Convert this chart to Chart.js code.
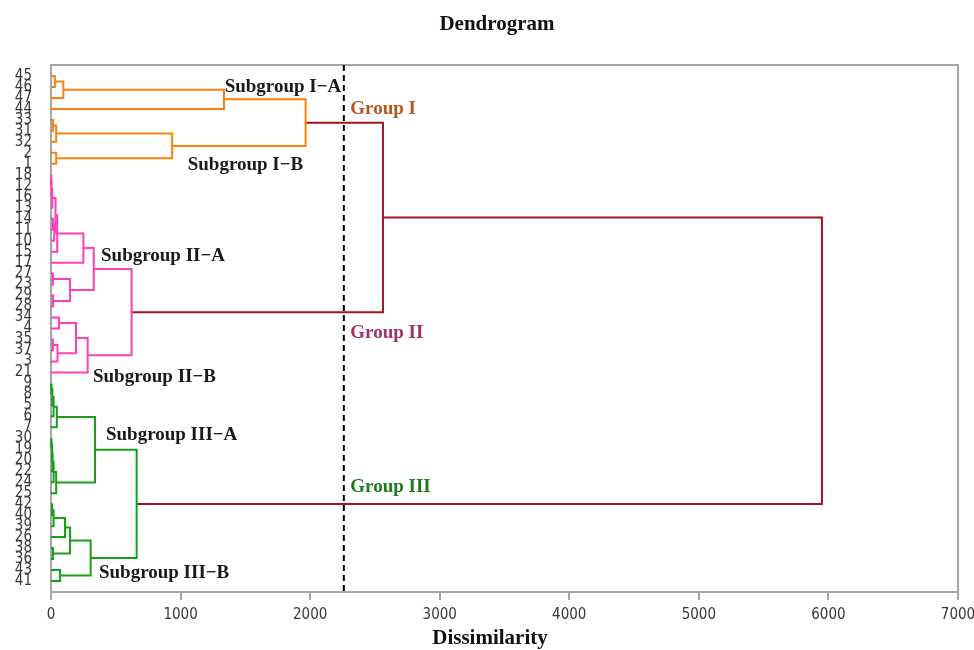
<!DOCTYPE html>
<html>
<head>
<meta charset="utf-8">
<script src="https://cdn.jsdelivr.net/npm/chart.js@4/dist/chart.umd.min.js"></script>
<style>
  html, body { margin: 0; padding: 0; background: #fff; }
  #wrap { width: 974px; height: 650px; }
</style>
</head>
<body>
<div id="wrap"><canvas id="dendro"></canvas></div>
<script>
// leaf order, top to bottom
const leaves = ['45','46','47','44','33','31','32','2','1',
  '18','12','16','13','14','11','10','15','17','27','23','29','28',
  '34','4','35','37','3','21',
  '9','8','5','6','7','30','19','20','22','24','25',
  '42','40','39','26','38','36','43','41'];

// merges: [child a, child b, dissimilarity]; strings are leaves, numbers are earlier merges
const merges = [
  ['45','46',30], [0,'47',95], [1,'44',1335],
  ['33','31',15], [3,'32',40], ['2','1',40], [4,5,935],
  [2,6,1965],
  ['18','12',3], [8,'16',6], [9,'13',10], ['14','11',15], [11,'10',25],
  [10,12,35], [13,'15',48], [14,'17',250],
  ['27','23',15], ['29','28',15], [16,17,147], [15,18,330],
  ['34','4',62], ['35','37',15], [21,'3',50], [20,22,193], [23,'21',283],
  [19,24,622],
  ['9','8',5], [26,'5',10], [27,'6',20], [28,'7',45],
  ['30','19',5], [30,'20',8], [31,'22',12], [32,'24',20], [33,'25',40],
  [29,34,340],
  ['42','40',8], [36,'39',20], [37,'26',108], ['38','36',15], [38,39,147],
  ['43','41',70], [40,41,306],
  [35,42,661],
  [7,25,2562], [44,43,5950]
];
const mergeGroup = [
  'I','I','I','I','I','I','I','I',
  'II','II','II','II','II','II','II','II','II','II','II','II','II','II','II','II','II','II',
  'III','III','III','III','III','III','III','III','III','III','III','III','III','III','III','III','III','III',
  'top','top'
];
const cutLevel = 2260;
const chartTitle = 'Dendrogram';
const xTitle = 'Dissimilarity';

// text notes: [text, dissimilarity, leaf position, kind]
const notes = [
  ['Subgroup I\u2212A', 1340, 2.0, 'sub'],
  ['Subgroup I\u2212B', 1055, 9.1, 'sub'],
  ['Group I', 2310, 4.0, 'I'],
  ['Subgroup II\u2212A', 386, 17.4, 'sub'],
  ['Group II', 2310, 24.4, 'II'],
  ['Subgroup II\u2212B', 324, 28.4, 'sub'],
  ['Subgroup III\u2212A', 424, 33.7, 'sub'],
  ['Group III', 2310, 38.4, 'III'],
  ['Subgroup III\u2212B', 370, 46.3, 'sub']
];

const lineColors = { I: '#ff7f0e', II: '#ff3fb8', III: '#17a017', top: '#a3141f' };
const noteColors = { sub: '#1a1a1a', I: '#b4581b', II: '#a52f6e', III: '#1f7a1f' };
const serif = "'Liberation Serif', 'DejaVu Serif', serif";
const narrow = "'DejaVu Sans Condensed', 'Liberation Sans', sans-serif";

// node coordinates
const pos = {};
leaves.forEach((l, i) => { pos[l] = { x: 0, y: i + 1 }; });
const nodes = [];
const datasets = [];
merges.forEach((m, i) => {
  const a = typeof m[0] === 'number' ? nodes[m[0]] : pos[m[0]];
  const b = typeof m[1] === 'number' ? nodes[m[1]] : pos[m[1]];
  const h = m[2];
  nodes[i] = { x: h, y: (a.y + b.y) / 2 };
  datasets.push({
    data: [{x: a.x, y: a.y}, {x: h, y: a.y}, {x: h, y: b.y}, {x: b.x, y: b.y}],
    borderColor: lineColors[mergeGroup[i]],
    borderWidth: 2,
    showLine: true,
    pointRadius: 0,
    tension: 0,
    clip: false
  });
});
datasets.push({
  data: [{x: cutLevel, y: 0}, {x: cutLevel, y: leaves.length + 1}],
  borderColor: '#000',
  borderWidth: 2,
  borderDash: [6, 4],
  showLine: true,
  pointRadius: 0,
  clip: false
});

const boxPlugin = {
  id: 'box',
  beforeDatasetsDraw(chart) {
    const { ctx, chartArea: c } = chart;
    ctx.save();
    ctx.strokeStyle = '#a6a6a6';
    ctx.lineWidth = 2;
    ctx.strokeRect(c.left, c.top, c.right - c.left, c.bottom - c.top);
    ctx.restore();
  }
};

const notesPlugin = {
  id: 'notes',
  afterDatasetsDraw(chart) {
    const { ctx, scales } = chart;
    ctx.save();
    ctx.font = 'bold 19px ' + serif;
    ctx.textAlign = 'left';
    ctx.textBaseline = 'middle';
    notes.forEach(n => {
      ctx.fillStyle = noteColors[n[3]];
      ctx.fillText(n[0], scales.x.getPixelForValue(n[1]), scales.y.getPixelForValue(n[2]));
    });
    // chart and axis titles
    ctx.fillStyle = '#111';
    ctx.textAlign = 'center';
    ctx.font = 'bold 21px ' + serif;
    ctx.fillText(chartTitle, 497, 25);
    ctx.fillText(xTitle, 490, 639);
    ctx.restore();
  }
};

new Chart(document.getElementById('dendro'), {
  type: 'scatter',
  data: { datasets: datasets },
  plugins: [boxPlugin, notesPlugin],
  options: {
    responsive: true,
    maintainAspectRatio: false,
    animation: false,
    layout: { padding: { left: 0, right: 0, top: 65, bottom: 0 } },
    plugins: {
      legend: { display: false },
      tooltip: { enabled: false },
      title: { display: false }
    },
    scales: {
      x: {
        type: 'linear',
        min: 0,
        max: 7000,
        afterFit: axis => { axis.height = 58; axis.paddingLeft = 0; axis.paddingRight = 16; },
        ticks: { stepSize: 1000, color: '#383838', padding: 6,
          font: { family: narrow, size: 15 },
          callback: v => String(v) },
        grid: { display: true, drawOnChartArea: false, drawTicks: true, tickLength: 8, color: '#a6a6a6', lineWidth: 2 },
        border: { display: true, color: '#a6a6a6', width: 2 }
      },
      y: {
        type: 'linear',
        reverse: true,
        min: 0,
        max: leaves.length + 1,
        afterFit: axis => { axis.width = 51; },
        afterBuildTicks: axis => { axis.ticks = leaves.map((l, i) => ({ value: i + 1 })); },
        ticks: {
          autoSkip: false,
          padding: 19,
          color: '#383838',
          font: { family: narrow, size: 15 },
          callback: v => leaves[v - 1] || ''
        },
        grid: { display: false, drawTicks: false },
        border: { display: true, color: '#a6a6a6', width: 2 }
      }
    }
  }
});
</script>
</body>
</html>
